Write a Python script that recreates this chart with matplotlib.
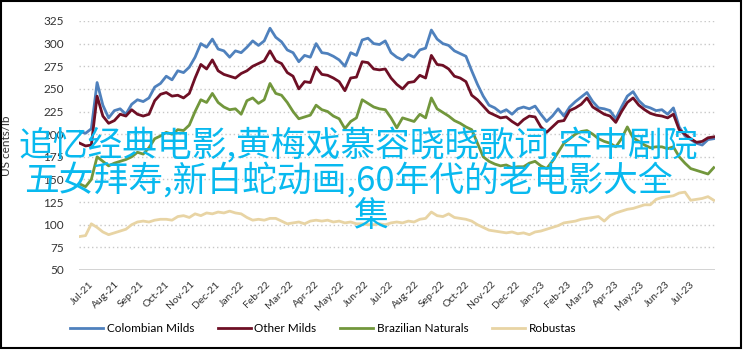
import numpy as np
import pandas as pd
import matplotlib
matplotlib.use("Agg")
import matplotlib.pyplot as plt
import matplotlib.dates as mdates
from matplotlib.patches import Rectangle

# ---------------- DATA (weekly, US cents/lb) ----------------
start_date = "2021-06-20"

colombian_milds = [
    203, 201, 206, 257, 232, 218, 226, 228, 222, 233, 238, 236, 240, 252, 256, 264,
    260, 270, 268, 274, 285, 300, 296, 305, 294, 292, 285, 292, 290, 296, 303, 298,
    303, 317, 307, 302, 293, 290, 280, 287, 285, 300, 290, 289, 286, 282, 275, 290,
    287, 304, 306, 300, 299, 303, 290, 285, 282, 288, 285, 293, 295, 315, 305, 300,
    298, 292, 289, 286, 270, 255, 242, 232, 229, 224, 227, 222, 228, 230, 228, 231,
    222, 214, 220, 228, 220, 230, 236, 241, 246, 236, 229, 228, 226, 217, 230, 242,
    247, 237, 231, 229, 226, 227, 222, 229, 208, 198, 194, 190, 188, 194, 195,
]
other_milds = [
    190, 187, 188, 242, 220, 212, 215, 222, 220, 227, 222, 220, 222, 237, 244, 246,
    242, 243, 240, 245, 262, 277, 272, 282, 270, 266, 264, 262, 267, 270, 275, 278,
    281, 292, 281, 278, 268, 264, 250, 258, 257, 274, 266, 265, 262, 258, 248, 262,
    263, 280, 279, 272, 271, 272, 262, 255, 250, 257, 258, 265, 262, 287, 277, 276,
    272, 264, 262, 258, 243, 238, 231, 224, 221, 218, 219, 214, 210, 216, 220, 219,
    208, 202, 208, 214, 215, 226, 229, 233, 240, 230, 226, 222, 220, 213, 225, 235,
    240, 232, 227, 223, 221, 220, 218, 222, 205, 200, 195, 191, 192, 196, 197,
]
brazilian_naturals = [
    145, 142, 150, 175, 170, 165, 168, 170, 172, 175, 180, 178, 185, 195, 198, 202,
    200, 205, 204, 210, 225, 238, 235, 245, 235, 230, 227, 228, 222, 237, 240, 234,
    238, 256, 245, 243, 235, 225, 217, 219, 221, 232, 227, 225, 220, 217, 206, 214,
    218, 238, 234, 230, 228, 227, 218, 207, 218, 216, 214, 222, 218, 240, 228, 224,
    220, 215, 212, 208, 205, 190, 175, 170, 167, 165, 166, 163, 164, 164, 168, 170,
    165, 162, 170, 180, 190, 195, 200, 203, 204, 200, 195, 192, 190, 186, 195, 208,
    196, 192, 188, 185, 186, 186, 184, 186, 175, 168, 162, 160, 158, 156, 163,
]
robustas = [
    87, 88, 101, 97, 92, 89, 91, 93, 95, 100, 103, 104, 103, 105, 106, 106,
    105, 109, 110, 108, 112, 110, 113, 112, 114, 113, 115, 113, 112, 108, 105, 106,
    105, 107, 107, 104, 101, 102, 103, 101, 104, 105, 104, 105, 103, 104, 102, 103,
    101, 101, 100, 100, 101, 100, 102, 103, 102, 104, 103, 106, 107, 114, 110, 109,
    112, 108, 107, 106, 104, 100, 97, 94, 93, 92, 91, 92, 90, 91, 89, 92,
    93, 95, 97, 99, 102, 103, 104, 106, 107, 108, 109, 104, 110, 113, 115, 117,
    118, 120, 122, 122, 128, 130, 131, 132, 135, 136, 127, 128, 129, 131, 127,
]

series_names = ["Colombian Milds", "Other Milds", "Brazilian Naturals", "Robustas"]
series_colors = ["#4f81bd", "#6e0f25", "#72973c", "#e8d4a4"]

overlay_lines = [
    "追忆经典电影,黄梅戏慕容晓晓歌词,空中剧院",
    "五女拜寿,新白蛇动画,60年代的老电影大全",
    "集",
]

dates = pd.date_range(start_date, periods=len(colombian_milds), freq="7D")

# ---------------- FIGURE ----------------
plt.rcParams["font.family"] = ["Lato", "DejaVu Sans"]

fig = plt.figure(figsize=(7.43, 3.52), dpi=100)
ax = fig.add_axes([0.1063, 0.233, 0.856, 0.7074])

all_series = [colombian_milds, other_milds, brazilian_naturals, robustas]
for name, color, vals in zip(series_names, series_colors, all_series):
    ax.plot(dates, vals, color=color, lw=2.0, label=name, solid_joinstyle="round")

ax.set_ylim(50, 325)
ax.set_yticks(range(50, 326, 25))
ax.set_xlim(pd.Timestamp("2021-06-19"), pd.Timestamp("2023-07-31 12:00"))

ax.xaxis.set_major_locator(mdates.MonthLocator())
ax.xaxis.set_major_formatter(mdates.DateFormatter("%b-%y"))
plt.setp(ax.get_xticklabels(), rotation=45, ha="right", va="top", rotation_mode="anchor",
         fontsize=7.5, color="#333333")
plt.setp(ax.get_yticklabels(), fontsize=8.5, color="#333333")
ax.tick_params(axis="both", length=0)
ax.tick_params(axis="y", pad=11)
ax.tick_params(axis="x", pad=7)

# dotted gridlines, solid base line at 50
for v in range(75, 326, 25):
    ax.axhline(v, color="#c8c8c8", lw=1.0, ls=(0, (1, 2)), zorder=0)
ax.axhline(50, color="#d0d0d0", lw=1.3, zorder=0)
for s in ax.spines.values():
    s.set_visible(False)

ax.set_ylabel("US cents/lb", fontsize=8.5, color="#333333")
ax.yaxis.set_label_coords(-0.105, 0.5)

fig.legend(loc="lower center", bbox_to_anchor=(0.435, 0.02), ncol=4, frameon=False,
           fontsize=8.5, handlelength=2.8, columnspacing=2.0, handletextpad=0.3)

# outer frame
fig.patches.append(Rectangle((0.0008, 0.0114), 0.9965, 0.987, transform=fig.transFigure,
                             fill=False, edgecolor="black", lw=1.5))

# overlay caption
cjk = ["Noto Sans CJK SC", "DejaVu Sans"]
cap_color = "#08b9ef"
fig.text(0.482, 0.585, overlay_lines[0], ha="center", va="center", fontsize=25,
         color=cap_color, family=cjk, fontweight="medium")
fig.text(0.469, 0.486, overlay_lines[1], ha="center", va="center", fontsize=25,
         color=cap_color, family=cjk, fontweight="medium")
fig.text(0.50, 0.385, overlay_lines[2], ha="center", va="center", fontsize=25,
         color=cap_color, family=cjk, fontweight="medium")

fig.savefig("out.png", dpi=100)
